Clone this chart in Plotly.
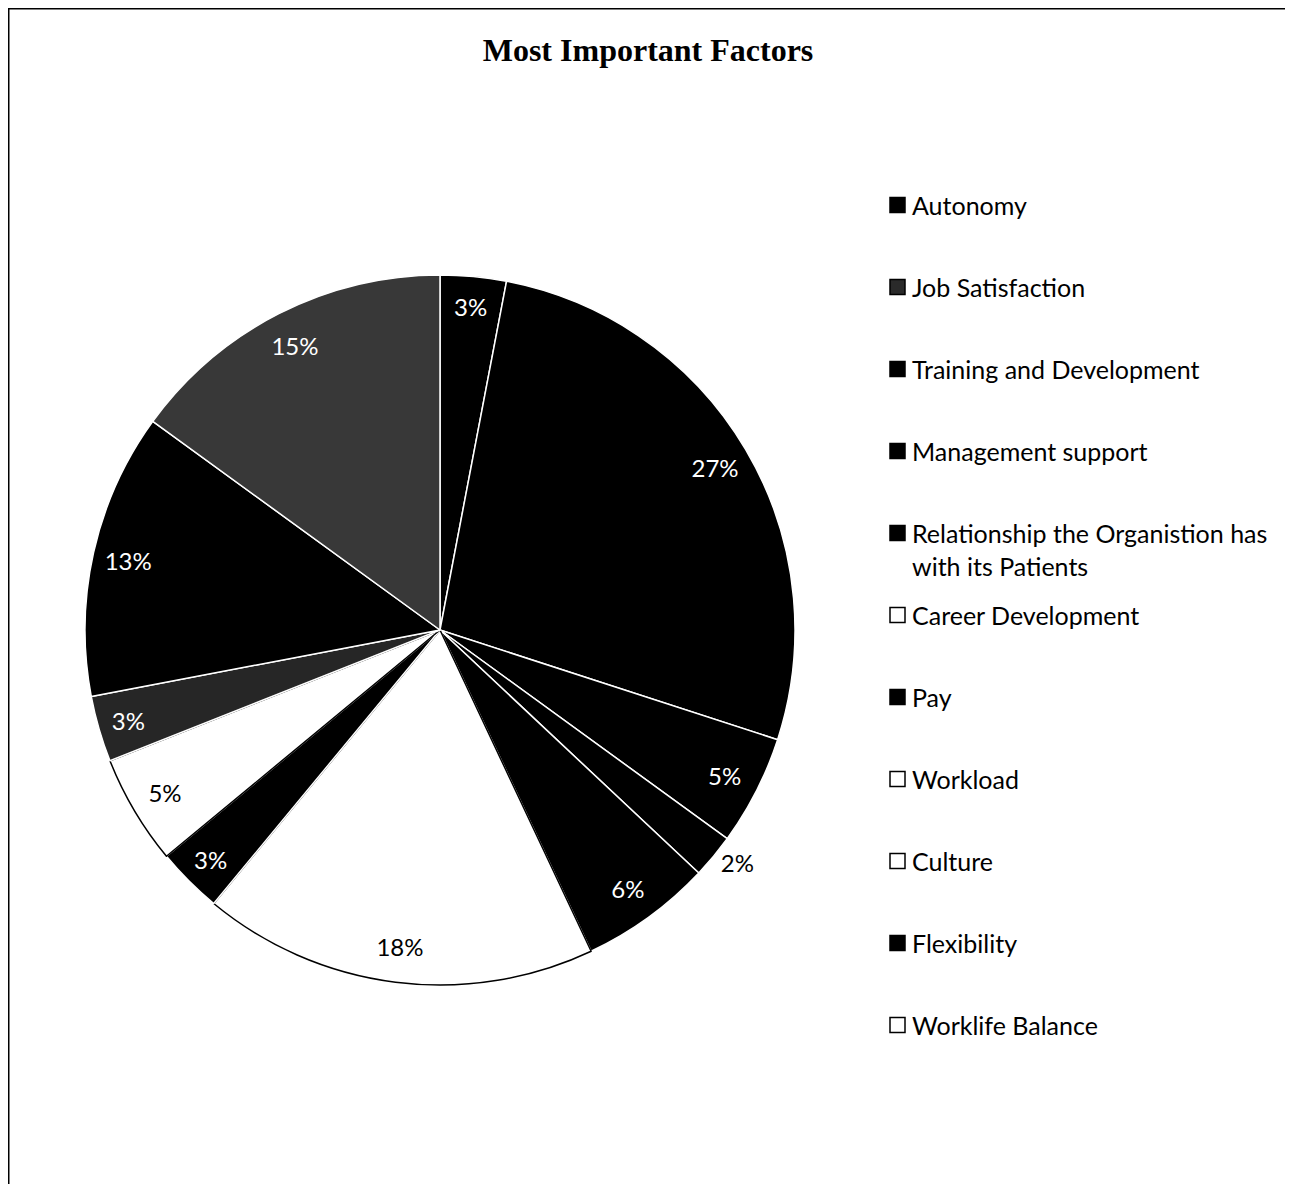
import plotly.graph_objects as go

W, H = 1293, 1184
OFF = 8  # page body margin

labels = ["Autonomy", "Job Satisfaction", "Training and Development", "Management support",
          "Relationship the Organistion has<br>with its Patients", "Career Development", "Pay",
          "Workload", "Culture", "Flexibility", "Worklife Balance"]
values = [3, 27, 5, 2, 6, 18, 3, 5, 3, 13, 15]

slice_colors = ["#000000", "#000000", "#000000", "#000000", "#000000", "#ffffff",
                "#000000", "#ffffff", "#262626", "#000000", "#383838"]
slice_lines = ["#ffffff", "#ffffff", "#ffffff", "#ffffff", "#ffffff", "#000000",
               "#ffffff", "#000000", "#ffffff", "#ffffff", "#ffffff"]
text_colors = ["#ffffff", "#ffffff", "#ffffff", "#000000", "#ffffff", "#000000",
               "#ffffff", "#000000", "#ffffff", "#ffffff", "#ffffff"]
text_positions = ["inside", "inside", "inside", "outside", "inside", "inside",
                  "inside", "inside", "inside", "inside", "inside"]
legend_fill = ["#000000", "#2a2a2a", "#000000", "#000000", "#000000", "#ffffff",
               "#000000", "#ffffff", "#ffffff", "#000000", "#ffffff"]

FONT = "Lato"

def px_x(x):
    return (x - OFF) / W

def px_y(y):
    return 1 - (y - OFF) / H

cx, cy, r = 440, 630, 355
dom_x = [px_x(cx - r), px_x(cx + r)]
dom_y = [px_y(cy + r), px_y(cy - r)]

fig = go.Figure()
fig.add_trace(go.Pie(
    labels=labels, values=values, sort=False, direction="clockwise", rotation=0,
    marker=dict(colors=slice_colors, line=dict(color=slice_lines, width=1.5)),
    textinfo="none", hoverinfo="label+percent", showlegend=False,
    domain=dict(x=dom_x, y=dom_y),
))
fig.add_trace(go.Pie(
    labels=labels, values=values, sort=False, direction="clockwise", rotation=0,
    hole=0.8,
    marker=dict(colors=["rgba(0,0,0,0)"] * len(values), line=dict(width=0)),
    texttemplate="%{percent:.0%}", textposition=text_positions,
    insidetextorientation="horizontal",
    textfont=dict(family=FONT, size=24, color=text_colors),
    hoverinfo="skip", showlegend=False,
    domain=dict(x=dom_x, y=dom_y),
))

# manual legend
shapes = []
annotations = []
y0, step = 205, 82
for i, (lab, fillc) in enumerate(zip(labels, legend_fill)):
    yc = y0 + step * i
    shapes.append(dict(type="rect", xref="paper", yref="paper",
                       x0=px_x(890), x1=px_x(905), y0=px_y(yc + 7.5), y1=px_y(yc - 7.5),
                       fillcolor=fillc, line=dict(color="#000000", width=1.5)))
    nlines = lab.count("<br>") + 1
    ya = yc + (nlines - 1) * 33 / 2
    annotations.append(dict(text=lab, xref="paper", yref="paper", x=px_x(910), y=px_y(ya),
                            xanchor="left", yanchor="middle", align="left", showarrow=False,
                            font=dict(family=FONT, size=25, color="#000000")))

# frame (top and left edges)
shapes.append(dict(type="line", xref="paper", yref="paper", x0=0, x1=1, y0=1 - 0.5 / H, y1=1 - 0.5 / H,
                   line=dict(color="#000000", width=2)))
shapes.append(dict(type="line", xref="paper", yref="paper", x0=0.5 / W, x1=0.5 / W, y0=1, y1=0,
                   line=dict(color="#000000", width=2)))

fig.update_layout(
    width=W, height=H,
    margin=dict(l=0, r=0, t=0, b=0),
    paper_bgcolor="#ffffff", plot_bgcolor="#ffffff",
    title=dict(text="<b>Most Important Factors</b>", x=px_x(648), xanchor="center",
               y=px_y(50), yanchor="middle",
               font=dict(family="Liberation Serif", size=32, color="#000000")),
    shapes=shapes, annotations=annotations,
    showlegend=False,
)

fig.write_html("out.html")
